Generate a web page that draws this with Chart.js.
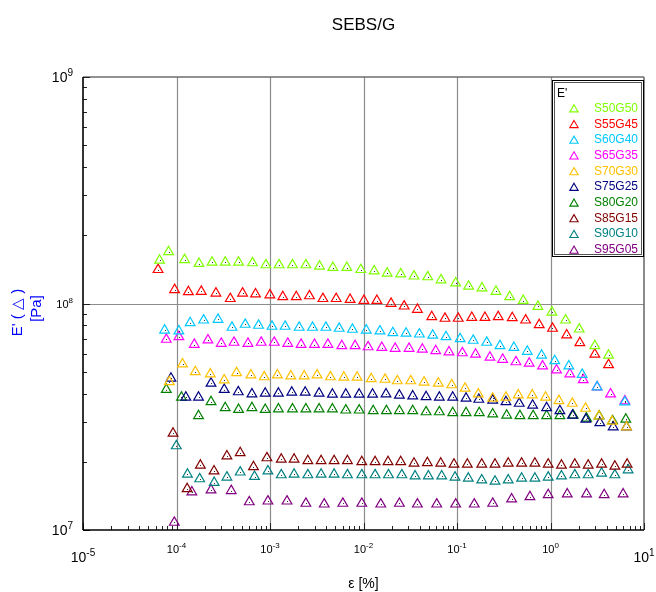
<!DOCTYPE html>
<html>
<head>
<meta charset="utf-8">
<title>SEBS/G</title>
<script src="https://cdn.jsdelivr.net/npm/chart.js@4.4.0/dist/chart.umd.min.js"></script>
<style>
  html, body { margin: 0; padding: 0; background: #fff; }
  #chart { display: block; }
</style>
</head>
<body>
<canvas id="chart" width="656" height="592"></canvas>
<script>
// strain amplitude [%] and storage modulus E' [Pa]
const strainS50G50 = [6.59e-5, 8.23e-5, 1.22e-4, 1.74e-4, 2.40e-4, 3.32e-4, 4.61e-4, 6.50e-4, 9.04e-4, 1.25e-3, 1.74e-3, 2.42e-3, 3.38e-3, 4.70e-3, 6.63e-3, 9.36e-3, 0.0130, 0.0179, 0.0250, 0.0347, 0.0486, 0.0675, 0.0968, 0.133, 0.185, 0.261, 0.366, 0.511, 0.733, 1.035, 1.45, 2.03, 2.98, 4.18];
const modS50G50 = [1.55e8, 1.69e8, 1.56e8, 1.50e8, 1.52e8, 1.52e8, 1.52e8, 1.51e8, 1.48e8, 1.48e8, 1.48e8, 1.48e8, 1.46e8, 1.44e8, 1.44e8, 1.41e8, 1.39e8, 1.36e8, 1.35e8, 1.32e8, 1.31e8, 1.27e8, 1.23e8, 1.19e8, 1.17e8, 1.13e8, 1.07e8, 1.03e8, 9.70e7, 9.15e7, 8.44e7, 7.70e7, 6.50e7, 5.90e7];

const strainS55G45 = [6.35e-5, 9.54e-5, 1.34e-4, 1.84e-4, 2.64e-4, 3.76e-4, 5.09e-4, 7.00e-4, 9.97e-4, 1.37e-3, 1.91e-3, 2.64e-3, 3.68e-3, 5.10e-3, 7.19e-3, 1.01e-2, 1.39e-2, 1.97e-2, 2.72e-2, 3.77e-2, 5.37e-2, 7.44e-2, 0.103, 0.144, 0.199, 0.276, 0.390, 0.542, 0.757, 1.05, 1.49, 2.06, 2.98, 4.18];
const modS55G45 = [1.41e8, 1.15e8, 1.125e8, 1.13e8, 1.11e8, 1.05e8, 1.11e8, 1.10e8, 1.09e8, 1.07e8, 1.07e8, 1.08e8, 1.05e8, 1.05e8, 1.04e8, 1.03e8, 1.03e8, 1.00e8, 9.73e7, 9.41e7, 8.73e7, 8.59e7, 8.59e7, 8.67e7, 8.67e7, 8.73e7, 8.64e7, 8.44e7, 8.05e7, 7.76e7, 7.25e7, 6.70e7, 5.96e7, 5.36e7];

const strainS60G40 = [7.46e-5, 1.06e-4, 1.40e-4, 1.95e-4, 2.78e-4, 3.92e-4, 5.43e-4, 7.54e-4, 1.05e-3, 1.45e-3, 2.05e-3, 2.85e-3, 3.96e-3, 5.49e-3, 7.61e-3, 1.07e-2, 1.50e-2, 2.06e-2, 2.85e-2, 3.96e-2, 5.50e-2, 7.63e-2, 0.108, 0.149, 0.208, 0.288, 0.406, 0.564, 0.803, 1.11, 1.57, 2.18, 3.15, 6.24];
const modS60G40 = [7.62e7, 7.55e7, 8.21e7, 8.44e7, 8.50e7, 7.84e7, 8.08e7, 8.00e7, 7.92e7, 7.92e7, 7.84e7, 7.84e7, 7.84e7, 7.76e7, 7.68e7, 7.62e7, 7.55e7, 7.42e7, 7.38e7, 7.32e7, 7.23e7, 7.12e7, 6.98e7, 6.87e7, 6.73e7, 6.50e7, 6.39e7, 6.14e7, 5.90e7, 5.58e7, 5.29e7, 4.86e7, 4.28e7, 3.67e7];

const strainS65G35 = [7.78e-5, 1.06e-4, 1.55e-4, 2.17e-4, 3.01e-4, 4.12e-4, 5.81e-4, 8.05e-4, 1.11e-3, 1.55e-3, 2.15e-3, 2.99e-3, 4.16e-3, 5.86e-3, 8.13e-3, 1.12e-2, 1.57e-2, 2.18e-2, 3.07e-2, 4.26e-2, 5.92e-2, 8.21e-2, 0.114, 0.158, 0.225, 0.308, 0.427, 0.592, 0.823, 1.16, 1.61, 2.24, 3.15, 4.39, 6.24];
const modS65G35 = [6.94e7, 7.12e7, 6.59e7, 6.89e7, 6.66e7, 6.73e7, 6.66e7, 6.73e7, 6.73e7, 6.66e7, 6.59e7, 6.59e7, 6.59e7, 6.50e7, 6.50e7, 6.43e7, 6.39e7, 6.33e7, 6.33e7, 6.27e7, 6.18e7, 6.10e7, 6.05e7, 5.96e7, 5.78e7, 5.66e7, 5.52e7, 5.44e7, 5.29e7, 5.08e7, 4.88e7, 4.60e7, 4.28e7, 3.98e7, 3.71e7];

const strainS70G30 = [8.38e-5, 1.16e-4, 1.59e-4, 2.30e-4, 3.24e-4, 4.39e-4, 6.25e-4, 8.67e-4, 1.20e-3, 1.67e-3, 2.32e-3, 3.19e-3, 4.43e-3, 6.16e-3, 8.54e-3, 1.21e-2, 1.70e-2, 2.30e-2, 3.20e-2, 4.44e-2, 6.31e-2, 8.78e-2, 0.122, 0.169, 0.241, 0.334, 0.452, 0.638, 0.886, 1.23, 1.71, 2.37, 3.29, 4.56, 6.50];
const modS70G30 = [4.51e7, 5.40e7, 4.99e7, 4.88e7, 4.59e7, 4.94e7, 4.83e7, 4.74e7, 4.83e7, 4.78e7, 4.78e7, 4.83e7, 4.74e7, 4.72e7, 4.72e7, 4.65e7, 4.62e7, 4.55e7, 4.55e7, 4.49e7, 4.44e7, 4.37e7, 4.22e7, 3.98e7, 3.81e7, 3.85e7, 3.94e7, 3.94e7, 3.85e7, 3.72e7, 3.62e7, 3.44e7, 3.18e7, 3.02e7, 2.85e7];

const strainS75G25 = [8.73e-5, 1.26e-4, 1.72e-4, 2.34e-4, 3.24e-4, 4.58e-4, 6.41e-4, 8.89e-4, 1.23e-3, 1.71e-3, 2.38e-3, 3.35e-3, 4.65e-3, 6.47e-3, 8.98e-3, 1.25e-2, 1.74e-2, 2.42e-2, 3.36e-2, 4.67e-2, 6.47e-2, 9.00e-2, 0.125, 0.171, 0.241, 0.334, 0.463, 0.644, 0.909, 1.26, 1.72, 2.39, 3.37, 4.68, 6.50];
const modS75G25 = [4.67e7, 3.85e7, 3.85e7, 4.44e7, 4.17e7, 4.07e7, 3.98e7, 4.01e7, 4.01e7, 4.05e7, 4.05e7, 4.01e7, 3.97e7, 3.97e7, 3.97e7, 3.97e7, 3.98e7, 3.93e7, 3.90e7, 3.87e7, 3.85e7, 3.85e7, 3.81e7, 3.77e7, 3.74e7, 3.68e7, 3.62e7, 3.55e7, 3.46e7, 3.36e7, 3.21e7, 3.08e7, 2.97e7, 2.85e7, 2.85e7];

const strainS80G20 = [7.78e-5, 1.13e-4, 1.72e-4, 2.34e-4, 3.32e-4, 4.61e-4, 6.41e-4, 8.89e-4, 1.23e-3, 1.74e-3, 2.42e-3, 3.35e-3, 4.65e-3, 6.47e-3, 8.98e-3, 1.27e-2, 1.76e-2, 2.42e-2, 3.36e-2, 4.67e-2, 6.47e-2, 9.00e-2, 0.125, 0.173, 0.241, 0.340, 0.471, 0.653, 0.909, 1.26, 1.75, 2.43, 3.31, 4.61, 6.39];
const modS80G20 = [4.17e7, 3.85e7, 3.19e7, 3.68e7, 3.46e7, 3.40e7, 3.46e7, 3.40e7, 3.42e7, 3.42e7, 3.42e7, 3.42e7, 3.42e7, 3.38e7, 3.38e7, 3.36e7, 3.36e7, 3.36e7, 3.36e7, 3.32e7, 3.32e7, 3.29e7, 3.29e7, 3.29e7, 3.25e7, 3.21e7, 3.19e7, 3.19e7, 3.19e7, 3.19e7, 3.21e7, 3.11e7, 3.18e7, 3.03e7, 3.08e7];

const strainS85G15 = [9.18e-5, 1.30e-4, 1.80e-4, 2.52e-4, 3.46e-4, 4.80e-4, 6.66e-4, 9.27e-4, 1.32e-3, 1.81e-3, 2.54e-3, 3.52e-3, 4.85e-3, 6.73e-3, 9.59e-3, 1.33e-2, 1.83e-2, 2.50e-2, 3.47e-2, 4.82e-2, 6.70e-2, 9.29e-2, 0.129, 0.184, 0.255, 0.353, 0.491, 0.681, 0.945, 1.31, 1.82, 2.53, 3.52, 4.88, 6.60];
const modS85G15 = [2.67e7, 1.52e7, 1.93e7, 1.82e7, 2.12e7, 2.19e7, 1.90e7, 2.08e7, 2.05e7, 2.05e7, 2.02e7, 2.02e7, 2.02e7, 2.02e7, 2.00e7, 2.00e7, 2.00e7, 2.00e7, 1.97e7, 1.98e7, 1.97e7, 1.95e7, 1.95e7, 1.95e7, 1.95e7, 1.97e7, 1.97e7, 1.97e7, 1.95e7, 1.93e7, 1.95e7, 1.93e7, 1.95e7, 1.91e7, 1.95e7];

const strainS90G10 = [9.95e-5, 1.31e-4, 1.77e-4, 2.53e-4, 3.46e-4, 4.80e-4, 6.83e-4, 9.50e-4, 1.32e-3, 1.81e-3, 2.54e-3, 3.52e-3, 4.85e-3, 6.73e-3, 9.59e-3, 1.33e-2, 1.85e-2, 2.57e-2, 3.56e-2, 4.94e-2, 6.86e-2, 9.52e-2, 0.132, 0.184, 0.255, 0.353, 0.491, 0.681, 0.945, 1.31, 1.82, 2.53, 3.52, 4.88, 6.76];
const modS90G10 = [2.35e7, 1.76e7, 1.68e7, 1.62e7, 1.71e7, 1.80e7, 1.72e7, 1.82e7, 1.75e7, 1.76e7, 1.75e7, 1.76e7, 1.76e7, 1.75e7, 1.75e7, 1.75e7, 1.75e7, 1.75e7, 1.73e7, 1.73e7, 1.73e7, 1.71e7, 1.69e7, 1.66e7, 1.64e7, 1.66e7, 1.69e7, 1.69e7, 1.71e7, 1.73e7, 1.75e7, 1.75e7, 1.78e7, 1.75e7, 1.84e7];

const strainS95G05 = [9.47e-5, 1.46e-4, 2.34e-4, 3.85e-4, 6.00e-4, 9.50e-4, 1.52e-3, 2.42e-3, 3.80e-3, 6.01e-3, 9.59e-3, 1.53e-2, 2.42e-2, 3.77e-2, 6.07e-2, 9.68e-2, 0.153, 0.241, 0.384, 0.603, 0.945, 1.51, 2.43, 3.75, 5.98];
const modS95G05 = [1.08e7, 1.47e7, 1.50e7, 1.49e7, 1.33e7, 1.34e7, 1.34e7, 1.31e7, 1.30e7, 1.31e7, 1.31e7, 1.30e7, 1.31e7, 1.30e7, 1.30e7, 1.30e7, 1.30e7, 1.31e7, 1.37e7, 1.40e7, 1.43e7, 1.44e7, 1.44e7, 1.43e7, 1.44e7];

const sampleNames = ['S50G50', 'S55G45', 'S60G40', 'S65G35', 'S70G30', 'S75G25', 'S80G20', 'S85G15', 'S90G10', 'S95G05'];
const sampleColors = ['#80ff00', '#ff0000', '#00c8ff', '#ff00ff', '#ffc000', '#000080', '#008000', '#800000', '#008080', '#800080'];
const strains = [strainS50G50, strainS55G45, strainS60G40, strainS65G35, strainS70G30, strainS75G25, strainS80G20, strainS85G15, strainS90G10, strainS95G05];
const moduli = [modS50G50, modS55G45, modS60G40, modS65G35, modS70G30, modS75G25, modS80G20, modS85G15, modS90G10, modS95G05];

// decade exponents for the two log axes
const xDecades = [-5, -4, -3, -2, -1, 0, 1];
const yDecades = [7, 8, 9];

const FONT = '"Liberation Sans", Arial, Helvetica, sans-serif';

const datasets = sampleNames.map((name, i) => ({
    label: name,
    data: strains[i].map((s, k) => ({ x: s, y: moduli[i][k] })),
    borderColor: sampleColors[i],
    backgroundColor: 'rgba(0,0,0,0)',
    pointStyle: 'triangle',
    pointRadius: 5.6,
    pointHoverRadius: 5.6,
    pointBorderWidth: 1.2,
    showLine: false
}));

// "10" with a raised exponent
function drawPower(ctx, exp, x, y, size, align) {
    const sup = Math.round(size * 0.72);
    ctx.font = size + 'px ' + FONT;
    const wBase = ctx.measureText('10').width;
    ctx.font = sup + 'px ' + FONT;
    const wExp = ctx.measureText(exp).width;
    const left = align === 'center' ? x - (wBase + wExp) / 2 : x - wBase - wExp;
    ctx.textAlign = 'left';
    ctx.textBaseline = 'alphabetic';
    ctx.font = size + 'px ' + FONT;
    ctx.fillText('10', left, y);
    ctx.font = sup + 'px ' + FONT;
    ctx.fillText(exp, left + wBase, y - size * 0.42);
}

function line(ctx, x1, y1, x2, y2) {
    ctx.beginPath();
    ctx.moveTo(x1, y1);
    ctx.lineTo(x2, y2);
    ctx.stroke();
}

const axesDecor = {
    id: 'axesDecor',
    beforeDatasetsDraw(chart) {
        const { ctx, chartArea: a, scales: { x, y } } = chart;
        ctx.save();

        // grid at inner decades
        ctx.strokeStyle = '#8c8c8c';
        ctx.lineWidth = 1.2;
        xDecades.slice(1, -1).forEach(e => {
            const px = Math.round(x.getPixelForValue(Math.pow(10, e))) + 0.5;
            line(ctx, px, a.top, px, a.bottom);
        });
        yDecades.slice(1, -1).forEach(e => {
            const py = Math.round(y.getPixelForValue(Math.pow(10, e))) + 0.5;
            line(ctx, a.left, py, a.right, py);
        });

        // top / right frame
        ctx.strokeStyle = '#6e6e6e';
        ctx.lineWidth = 1.6;
        line(ctx, a.left, a.top, a.right, a.top);
        line(ctx, a.right, a.top, a.right, a.bottom);

        // minor + major ticks, pointing inwards
        ctx.strokeStyle = '#222';
        ctx.lineWidth = 1;
        xDecades.forEach((e, i) => {
            const px = Math.round(x.getPixelForValue(Math.pow(10, e))) + 0.5;
            line(ctx, px, a.bottom, px, a.bottom - 7);
            if (i === xDecades.length - 1) return;
            for (let m = 2; m <= 9; m++) {
                const p = Math.round(x.getPixelForValue(m * Math.pow(10, e))) + 0.5;
                line(ctx, p, a.bottom, p, a.bottom - 4);
            }
        });
        yDecades.forEach((e, i) => {
            const py = Math.round(y.getPixelForValue(Math.pow(10, e))) + 0.5;
            line(ctx, a.left, py, a.left + 7, py);
            if (i === yDecades.length - 1) return;
            for (let m = 2; m <= 9; m++) {
                const p = Math.round(y.getPixelForValue(m * Math.pow(10, e))) + 0.5;
                line(ctx, a.left, p, a.left + 4, p);
            }
        });

        // left / bottom axis lines
        ctx.strokeStyle = '#000';
        ctx.lineWidth = 1.6;
        line(ctx, a.left, a.top, a.left, a.bottom);
        line(ctx, a.left, a.bottom, a.right, a.bottom);

        // tick labels (end labels larger, as in the original)
        ctx.fillStyle = '#000';
        xDecades.forEach((e, i) => {
            const px = x.getPixelForValue(Math.pow(10, e));
            const big = i === 0 || i === xDecades.length - 1;
            drawPower(ctx, String(e), px, big ? a.bottom + 32 : a.bottom + 23, big ? 14 : 11, 'center');
        });
        yDecades.forEach((e, i) => {
            const py = y.getPixelForValue(Math.pow(10, e));
            const big = i === 0 || i === yDecades.length - 1;
            drawPower(ctx, String(e), a.left - 10, big ? py + 5 : py + 4, big ? 14 : 11, 'right');
        });

        // title and axis titles
        const cx = (a.left + a.right) / 2;
        ctx.textAlign = 'center';
        ctx.textBaseline = 'alphabetic';
        ctx.font = '17px ' + FONT;
        ctx.fillText('SEBS/G', cx, 30);
        ctx.font = '14px ' + FONT;
        ctx.fillText('ε [%]', cx, 588);

        ctx.fillStyle = '#0000ff';
        ctx.textBaseline = 'middle';
        ctx.translate(18, (a.top + a.bottom) / 2 + 9);
        ctx.rotate(-Math.PI / 2);
        ctx.font = '15px ' + FONT;
        ctx.fillText("E' ( \u25B3 )", 0, 0);
        ctx.fillText('[Pa]', 4, 19);
        ctx.restore();
    }
};

// small centre dot in every marker
const markerDots = {
    id: 'markerDots',
    afterDatasetsDraw(chart) {
        const ctx = chart.ctx;
        ctx.save();
        ctx.fillStyle = '#333';
        chart.data.datasets.forEach((ds, i) => {
            chart.getDatasetMeta(i).data.forEach(pt => {
                ctx.fillRect(Math.round(pt.x), Math.round(pt.y), 1, 1);
            });
        });
        ctx.restore();
    }
};

function triangle(ctx, cx, cy, r) {
    ctx.beginPath();
    ctx.moveTo(cx, cy - r);
    ctx.lineTo(cx + r * 0.866, cy + r / 2);
    ctx.lineTo(cx - r * 0.866, cy + r / 2);
    ctx.closePath();
    ctx.stroke();
}

const legendBox = {
    id: 'legendBox',
    afterDatasetsDraw(chart) {
        const { ctx, chartArea: a } = chart;
        const w = 92, h = 177;
        const bx = a.right - w, by = a.top + 3;
        ctx.save();
        ctx.fillStyle = '#fff';
        ctx.fillRect(bx, by, w, h);
        ctx.strokeStyle = '#000';
        ctx.lineWidth = 1;
        ctx.strokeRect(bx + 0.5, by + 0.5, w - 1, h - 1);
        ctx.strokeStyle = '#555';
        ctx.strokeRect(bx + 2.5, by + 2.5, w - 5, h - 5);

        ctx.fillStyle = '#000';
        ctx.font = '12px ' + FONT;
        ctx.textAlign = 'left';
        ctx.textBaseline = 'alphabetic';
        ctx.fillText("E'", bx + 5, by + 17);

        ctx.textBaseline = 'middle';
        chart.data.datasets.forEach((ds, i) => {
            const ry = by + 28.5 + i * 15.7;
            ctx.strokeStyle = ds.borderColor;
            ctx.lineWidth = 1.1;
            triangle(ctx, bx + 22, ry + 1, 4.8);
            ctx.fillStyle = ds.borderColor;
            ctx.fillText(ds.label, bx + 42, ry);
        });
        ctx.restore();
    }
};

const myChart = new Chart(document.querySelector('#chart').getContext('2d'), {
    type: 'scatter',
    data: { datasets: datasets },
    options: {
        responsive: false,
        animation: false,
        layout: { padding: { left: 83, right: 12, top: 77, bottom: 62 } },
        scales: {
            x: { type: 'logarithmic', min: 1e-5, max: 10, display: false },
            y: { type: 'logarithmic', min: 1e7, max: 1e9, display: false }
        },
        plugins: {
            legend: { display: false },
            title: { display: false },
            tooltip: { enabled: false }
        }
    },
    plugins: [axesDecor, markerDots, legendBox]
});
</script>
</body>
</html>
